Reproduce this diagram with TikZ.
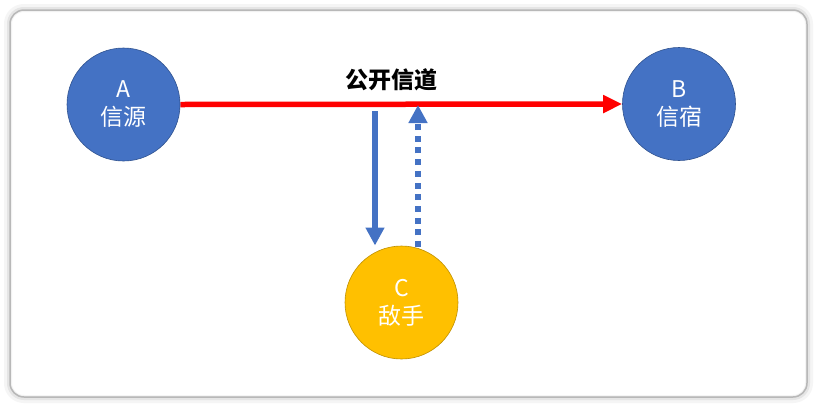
\documentclass[tikz,border=0pt]{standalone}
\usepackage{fontspec}
\setmainfont{Noto Sans CJK SC}
\usepackage{tikz}
\usetikzlibrary{arrows.meta}
\definecolor{nodeblue}{HTML}{4472C4}
\definecolor{nodeblueline}{HTML}{2F528F}
\definecolor{nodegold}{HTML}{FFC000}
\definecolor{nodegoldline}{HTML}{BF9000}
\pgfdeclarelayer{bg}
\pgfsetlayers{bg,main}

\begin{document}
\begin{tikzpicture}[x=1pt, y=-1pt,
    party/.style={circle, minimum size=113pt, inner sep=0pt, line width=0.6pt,
        align=center, text=white, font=\fontsize{23}{28}\selectfont},
    channel/.style={line width=5.5pt, red, -{Triangle[length=19pt, width=17pt]}},
    tap/.style={line width=5.5pt, nodeblue, -{Triangle[length=18pt, width=18pt]}}]
    \useasboundingbox (0,0) rectangle (817,408);

    \node (a) [party, fill=nodeblue, draw=nodeblueline] at (123.5, 104.5) {A\\信源};
    \node (b) [party, fill=nodeblue, draw=nodeblueline] at (679, 104) {B\\信宿};
    \node (c) [party, fill=nodegold, draw=nodegoldline] at (401.5, 302.5) {C\\敌手};
    \node (lbl) [font=\fontsize{23}{26}\selectfont\bfseries] at (391, 80) {公开信道};

    \coordinate (down1) at (375, 111);
    \coordinate (down2) at (375, 245.5);
    \coordinate (up1) at (418, 247);
    \coordinate (up2) at (418, 105);

    \begin{pgfonlayer}{bg}
        \fill[white] (0,0) rectangle (817,408);
        % frame with soft shadow
        \draw[rounded corners=16pt, line width=8pt, black!4] (8,8) rectangle (809,399);
        \draw[rounded corners=15pt, line width=4pt, black!10] (9,9) rectangle (808,398);
        \draw[rounded corners=14pt, line width=1.5pt, black!28] (10,10) rectangle (807,397);

        \draw[channel] (a.east) -- (b.west);
    \end{pgfonlayer}
    \draw[tap] (down1) -- (down2);
    \draw[tap, dash pattern=on 6pt off 5.7pt] (up1) -- (up2);
\end{tikzpicture}
\end{document}
